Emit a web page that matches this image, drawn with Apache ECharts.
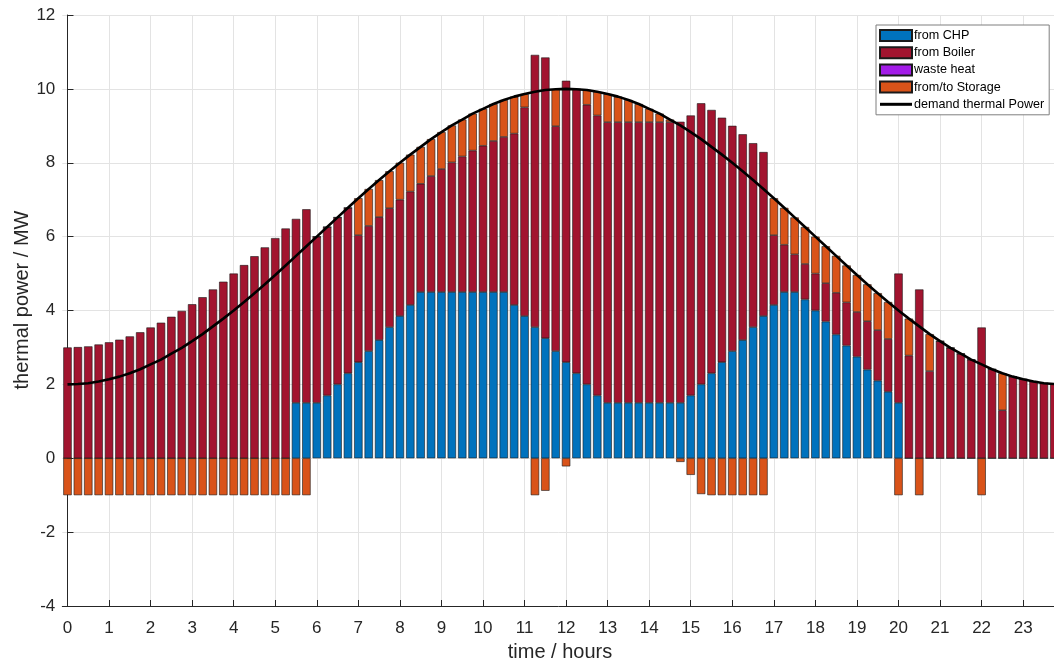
<!DOCTYPE html>
<html>
<head>
<meta charset="utf-8">
<script src="https://cdn.jsdelivr.net/npm/echarts@6/dist/echarts.min.js"></script>
<style>
html,body{margin:0;padding:0;background:#fff;}
#chart{width:1054px;height:666px;overflow:hidden;}
</style>
</head>
<body>
<div id="chart"></div>
<script>
// time of each quarter-hour bar (hours)
const time = [0,0.25,0.5,0.75,1,1.25,1.5,1.75,2,2.25,2.5,2.75,3,3.25,3.5,3.75,4,4.25,4.5,4.75,5,5.25,5.5,5.75,6,6.25,6.5,6.75,7,7.25,7.5,7.75,8,8.25,8.5,8.75,9,9.25,9.5,9.75,10,10.25,10.5,10.75,11,11.25,11.5,11.75,12,12.25,12.5,12.75,13,13.25,13.5,13.75,14,14.25,14.5,14.75,15,15.25,15.5,15.75,16,16.25,16.5,16.75,17,17.25,17.5,17.75,18,18.25,18.5,18.75,19,19.25,19.5,19.75,20,20.25,20.5,20.75,21,21.25,21.5,21.75,22,22.25,22.5,22.75,23,23.25,23.5,23.75];

// heat from CHP (MW)
const chp = [0,0,0,0,0,0,0,0,0,0,0,0,0,0,0,0,0,0,0,0,0,0,
  1.5,1.5,1.5,1.7,2.0,2.3,2.6,2.9,3.2,3.55,3.85,4.15,
  4.5,4.5,4.5,4.5,4.5,4.5,4.5,4.5,4.5,
  4.15,3.85,3.55,3.25,2.9,2.6,2.3,2.0,1.7,
  1.5,1.5,1.5,1.5,1.5,1.5,1.5,1.5,
  1.7,2.0,2.3,2.6,2.9,3.2,3.55,3.85,4.15,4.5,4.5,4.3,4.0,3.7,3.35,3.05,2.75,2.4,2.1,1.8,1.5,
  0,0,0,0,0,0,0,0,0,0,0,0,0,0,0];

// heat from boiler (MW)
const boiler = [3.00,3.01,3.03,3.08,3.14,3.21,3.30,3.41,3.54,3.67,3.83,3.99,4.17,4.36,4.57,4.78,5.00,5.23,5.47,5.71,5.96,6.22,
  4.98,5.24,4.50,4.56,4.52,4.48,3.44,3.39,3.33,3.22,3.15,3.07,
  2.93,3.14,3.33,3.51,3.67,3.83,3.96,4.09,4.20,
  4.64,5.65,7.37,7.60,6.09,7.62,7.69,7.57,7.58,
  7.60,7.60,7.60,7.60,7.60,7.60,7.60,7.61,
  7.58,7.61,7.13,6.62,6.10,5.57,4.98,4.44,1.89,1.28,1.02,0.96,1.00,1.04,1.13,1.17,1.21,1.31,1.37,1.43,3.50,
  2.78,4.57,2.36,3.17,2.99,2.83,2.67,3.54,2.41,1.30,2.21,2.14,2.08,2.03,2.01];

// waste heat (MW) - none used in this day
const wasteHeat = [];

// storage discharge (+) / charge (-) (MW)
const storage = [-1,-1,-1,-1,-1,-1,-1,-1,-1,-1,-1,-1,-1,-1,-1,-1,-1,-1,-1,-1,-1,-1,-1,-1,
  0,0,0,0,
  1,1,1,1,1,1,1,1,1,1,1,1,1,1,1,1,
  0.36,-1,-0.88,1.0,-0.22,0,0.4,0.64,0.76,0.69,0.6,0.49,0.36,0.23,0.07,-0.1,-0.45,-0.97,
  -1,-1,-1,-1,-1,-1,
  1,1,1,1,1,1,1,1,1,1,1,1,
  -1,1,-1,1,0,0,0,0,-1,0,1,0,0,0,0,0];

// thermal demand (MW)
const demand = [2.00,2.01,2.03,2.08,2.14,2.21,2.30,2.41,2.54,2.67,2.83,2.99,3.17,3.36,3.57,3.78,4.00,4.23,4.47,4.71,4.96,5.22,5.48,5.74,
  6.00,6.26,6.52,6.78,7.04,7.29,7.53,7.77,8.00,8.22,8.43,8.64,8.83,9.01,9.17,9.33,9.46,9.59,9.70,9.79,9.86,9.92,9.97,9.99,
  10.00,9.99,9.97,9.92,9.86,9.79,9.70,9.59,9.46,9.33,9.17,9.01,8.83,8.64,8.43,8.22,8.00,7.77,7.53,7.29,7.04,6.78,6.52,6.26,
  6.00,5.74,5.48,5.22,4.96,4.71,4.47,4.23,4.00,3.78,3.57,3.36,3.17,2.99,2.83,2.67,2.54,2.41,2.30,2.21,2.14,2.08,2.03,2.01];

const hourTicks = [0,1,2,3,4,5,6,7,8,9,10,11,12,13,14,15,16,17,18,19,20,21,22,23];

const FONT = '"Liberation Sans", Arial, Helvetica, sans-serif';
const TXT = '#262626';
const EDGE = '#1a1a1a';

const barBase = {
  type: 'bar',
  xAxisIndex: 1,
  yAxisIndex: 0,
  stack: 'heat',
  stackStrategy: 'samesign',
  barWidth: 8.4,
  animation: false
};

const chart = echarts.init(document.getElementById('chart'), null, {renderer: 'canvas'});
chart.setOption({
  animation: false,
  backgroundColor: '#ffffff',
  textStyle: {fontFamily: FONT, color: TXT},
  grid: {left: 62.3, top: 15, width: 997.2, height: 591, containLabel: false, outerBoundsMode: 'none'},
  legend: {
    orient: 'vertical',
    left: 876,
    top: 25,
    padding: [4, 5, 4, 3],
    itemWidth: 32,
    itemHeight: 11,
    itemGap: 4.2,
    backgroundColor: '#ffffff',
    borderColor: '#7f7f7f',
    borderWidth: 1,
    borderRadius: 0,
    textStyle: {fontFamily: FONT, fontSize: 12.6, color: '#000', padding: [0, 0, 0, -3]},
    data: [
      {name: 'from CHP', icon: 'rect'},
      {name: 'from Boiler', icon: 'rect'},
      {name: 'waste heat', icon: 'rect'},
      {name: 'from/to Storage', icon: 'rect'},
      {name: 'demand thermal Power', icon: 'path://M0,0 L32,0 L32,3 L0,3 Z'}
    ]
  },
  xAxis: [{
    type: 'value',
    min: -0.125,
    max: 23.875,
    axisLine: {show: true, onZero: false, lineStyle: {color: TXT, width: 1}},
    axisTick: {show: true, inside: true, length: 6, customValues: hourTicks, lineStyle: {color: TXT}},
    axisLabel: {show: true, customValues: hourTicks, margin: 14, fontFamily: FONT, fontSize: 17, color: TXT},
    splitLine: {show: true, lineStyle: {color: '#e3e3e3', width: 1}},
    minorTick: {show: false},
    minorSplitLine: {show: false}
  }, {
    type: 'category',
    data: time.map(String),
    boundaryGap: true,
    show: false,
    axisLine: {show: false, onZero: false},
    axisTick: {show: false},
    axisLabel: {show: false},
    splitLine: {show: false}
  }],
  yAxis: {
    type: 'value',
    min: -4,
    max: 12,
    interval: 2,
    axisLine: {show: true, lineStyle: {color: TXT, width: 1}},
    axisTick: {show: true, inside: true, length: 6, lineStyle: {color: TXT}},
    axisLabel: {margin: 7, fontFamily: FONT, fontSize: 17, color: TXT},
    splitLine: {show: true, lineStyle: {color: '#e3e3e3', width: 1}}
  },
  graphic: [{
    type: 'text',
    x: 22, y: 300,
    rotation: Math.PI / 2,
    style: {text: 'thermal power / MW', fontFamily: FONT, fontSize: 20, fill: TXT, align: 'center', verticalAlign: 'middle'}
  }, {
    type: 'text',
    x: 560, y: 652,
    style: {text: 'time / hours', fontFamily: FONT, fontSize: 20, fill: TXT, align: 'center', verticalAlign: 'middle'}
  }],
  series: [
    Object.assign({}, barBase, {
      name: 'from CHP', data: chp,
      itemStyle: {color: '#0072BD', borderColor: EDGE, borderWidth: 0.6}
    }),
    Object.assign({}, barBase, {
      name: 'from Boiler', data: boiler,
      itemStyle: {color: '#A2142F', borderColor: EDGE, borderWidth: 0.6}
    }),
    Object.assign({}, barBase, {
      name: 'waste heat', data: wasteHeat,
      itemStyle: {color: '#A31CE8', borderColor: EDGE, borderWidth: 0.6}
    }),
    Object.assign({}, barBase, {
      name: 'from/to Storage', data: storage,
      itemStyle: {color: '#D95319', borderColor: EDGE, borderWidth: 0.6}
    }),
    {
      type: 'line',
      name: 'demand thermal Power',
      xAxisIndex: 0,
      yAxisIndex: 0,
      data: time.map((t, i) => [t, demand[i]]),
      symbol: 'none',
      showSymbol: false,
      smooth: false,
      clip: true,
      z: 5,
      color: '#000',
      itemStyle: {color: '#000'},
      lineStyle: {color: '#000', width: 2.6}
    }
  ]
});
</script>
</body>
</html>
